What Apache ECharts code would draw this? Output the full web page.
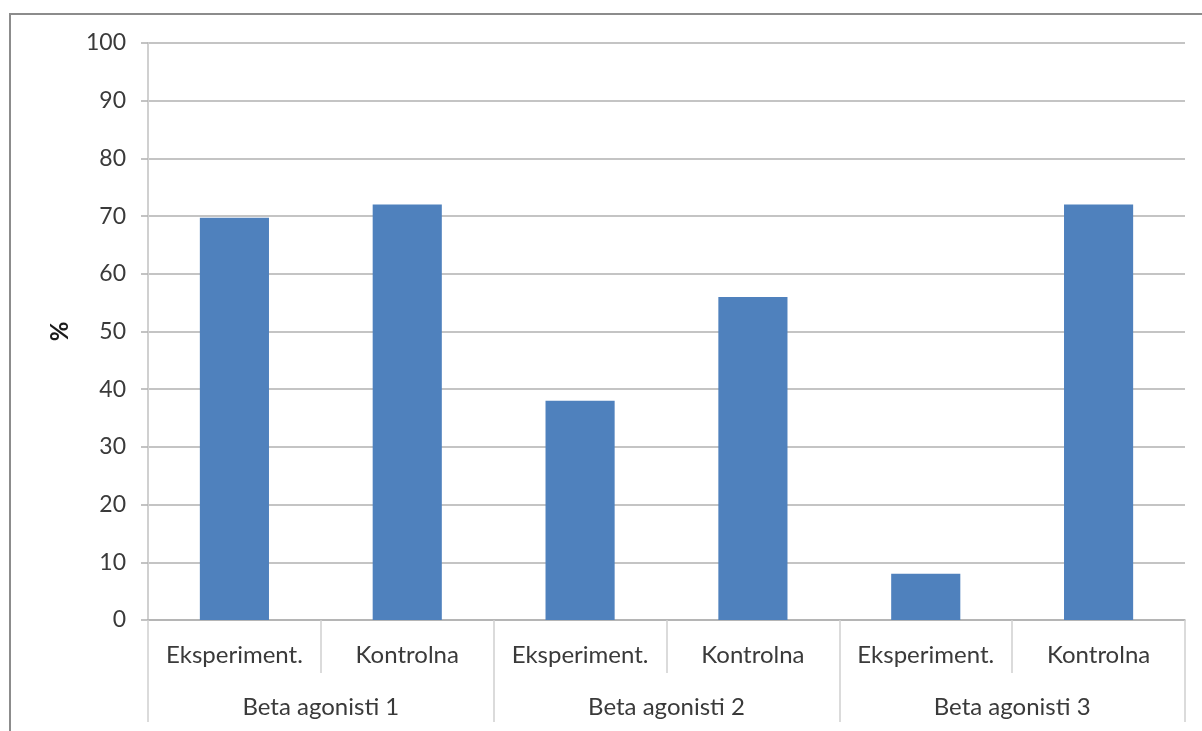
<!DOCTYPE html>
<html>
<head>
<meta charset="utf-8">
<script src="https://cdn.jsdelivr.net/npm/echarts@6/dist/echarts.min.js"></script>
<style>
  html, body { margin: 0; padding: 0; background: #fff; }
  #frame { position: absolute; left: 9px; top: 13px; width: 1193px; height: 718px;
           border-left: 2px solid #8c8c8c; border-top: 2px solid #8c8c8c; box-sizing: border-box; }
  #chart { position: absolute; left: 0; top: 0; width: 1202px; height: 731px; }
</style>
</head>
<body>
<div id="frame"></div>
<div id="chart"></div>
<script>
const innerCategories = ['Eksperiment.', 'Kontrolna', 'Eksperiment.', 'Kontrolna', 'Eksperiment.', 'Kontrolna'];
const outerCategories = ['Beta agonisti 1', 'Beta agonisti 2', 'Beta agonisti 3'];
const values = [69.7, 72, 38, 56, 8, 72];
const yTicks = { min: 0, max: 100, interval: 10 };
const yName = '%';

const FONT = 'Lato';
const TXT = '#3a3a3a';

const chart = echarts.init(document.getElementById('chart'), null, { renderer: 'canvas' });
chart.setOption({
  animation: false,
  grid: { left: 148, right: 17, top: 43, bottom: 111, containLabel: false },
  xAxis: [
    {
      type: 'category',
      data: innerCategories,
      position: 'bottom',
      axisLine: { show: true, lineStyle: { color: '#b0b0b0', width: 1.5 } },
      axisTick: { show: true, interval: 0, length: 53, lineStyle: { color: '#d0d0d0', width: 1.5 } },
      axisLabel: { interval: 0, margin: 23, color: TXT, fontFamily: FONT, fontSize: 24 },
      splitLine: { show: false }
    },
    {
      type: 'category',
      data: outerCategories,
      position: 'bottom',
      axisLine: { show: false },
      axisTick: { show: true, interval: 0, length: 102, lineStyle: { color: '#d0d0d0', width: 1.5 } },
      axisLabel: { interval: 0, margin: 75, color: TXT, fontFamily: FONT, fontSize: 24 },
      splitLine: { show: false }
    }
  ],
  yAxis: {
    type: 'value',
    min: yTicks.min, max: yTicks.max, interval: yTicks.interval,
    name: yName,
    nameLocation: 'middle',
    nameGap: 76,
    nameRotate: 90,
    nameTextStyle: { color: '#1a1a1a', fontFamily: FONT, fontSize: 24, fontWeight: 'bold' },
    axisLine: { show: true, lineStyle: { color: '#d0d0d0', width: 2 } },
    axisTick: { show: true, length: 7, lineStyle: { color: '#b0b0b0', width: 1.5 } },
    axisLabel: { margin: 22, color: TXT, fontFamily: FONT, fontSize: 23 },
    splitLine: { show: true, lineStyle: { color: '#b0b0b0', width: 1.5 } }
  },
  series: [{
    type: 'bar',
    xAxisIndex: 0,
    data: values,
    barWidth: '40%',
    itemStyle: { color: '#4f81bd' }
  }]
});
</script>
</body>
</html>
